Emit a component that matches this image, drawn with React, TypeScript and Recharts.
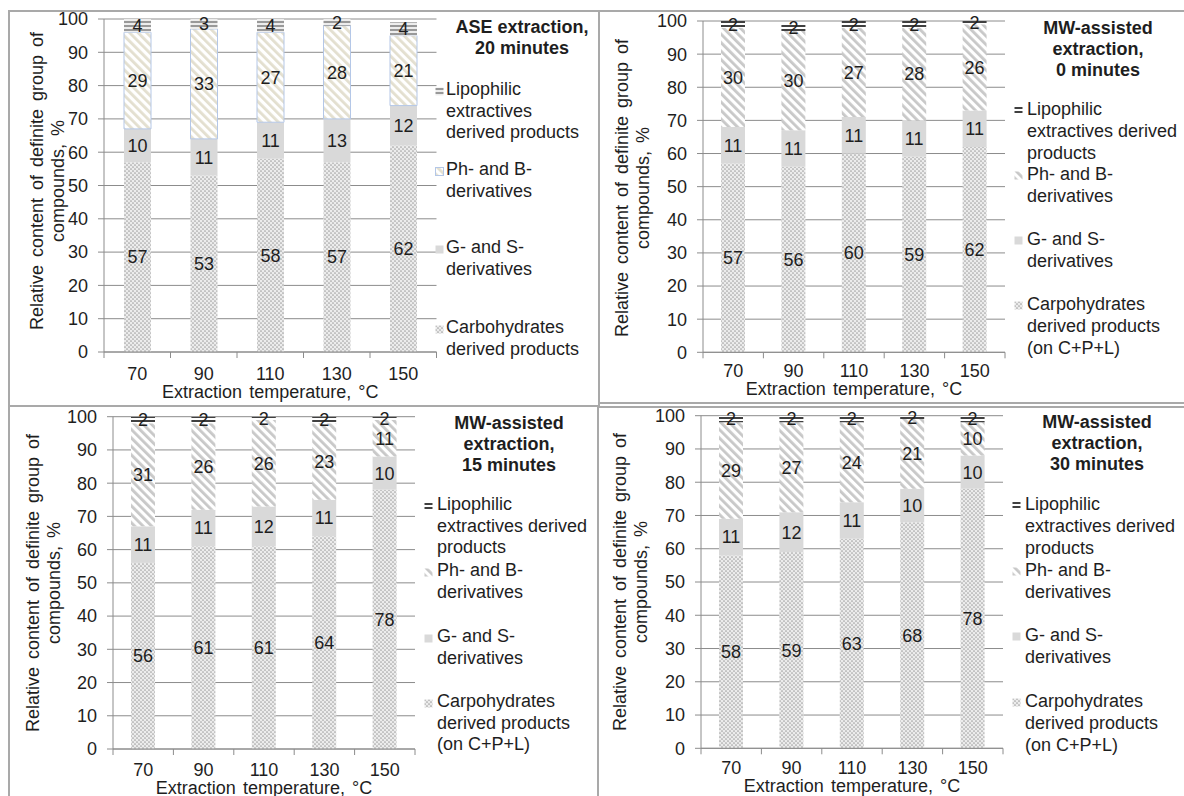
import React from 'react'
import { BarChart, Bar, XAxis, YAxis, CartesianGrid, LabelList } from 'recharts'

const temperatures = ['70', '90', '110', '130', '150']
const percentTicks = [0, 10, 20, 30, 40, 50, 60, 70, 80, 90, 100]

// ASE extraction, 20 minutes
const aseCarbohydrates = [57, 53, 58, 57, 62]
const aseGS = [10, 11, 11, 13, 12]
const asePhB = [29, 33, 27, 28, 21]
const aseLipophilic = [4, 3, 4, 2, 4]

// MW-assisted extraction, 0 minutes
const mw0Carbohydrates = [57, 56, 60, 59, 62]
const mw0GS = [11, 11, 11, 11, 11]
const mw0PhB = [30, 30, 27, 28, 26]
const mw0Lipophilic = [2, 2, 2, 2, 2]

// MW-assisted extraction, 15 minutes
const mw15Carbohydrates = [56, 61, 61, 64, 78]
const mw15GS = [11, 11, 12, 11, 10]
const mw15PhB = [31, 26, 26, 23, 11]
const mw15Lipophilic = [2, 2, 2, 2, 2]

// MW-assisted extraction, 30 minutes
const mw30Carbohydrates = [58, 59, 63, 68, 78]
const mw30GS = [11, 12, 11, 10, 10]
const mw30PhB = [29, 27, 24, 21, 10]
const mw30Lipophilic = [2, 2, 2, 2, 2]

const aseLegend = [
  ['Lipophilic', 'extractives', 'derived products'],
  ['Ph- and B-', 'derivatives'],
  ['G- and S-', 'derivatives'],
  ['Carbohydrates', 'derived products'],
]
const mwLegend = [
  ['Lipophilic', 'extractives derived', 'products'],
  ['Ph- and B-', 'derivatives'],
  ['G- and S-', 'derivatives'],
  ['Carpohydrates', 'derived products', '(on C+P+L)'],
]

const FONT = "'Liberation Sans', Arial, Helvetica, sans-serif"
const TEXT = '#1e1e1e'
const AXIS = '#8c8c8c'
const BORDER = 2
// chart svg starts this far above the panel's inner edge so the "100" tick is not clipped
const LIFT = 12

type Box = { left: number; top: number; width: number; height: number }
type Plot = { left: number; right: number; top: number; bottom: number }

type PanelProps = {
  box: Box
  plot: Plot
  carbs: number[]
  gs: number[]
  phb: number[]
  lipo: number[]
  ase: boolean
  title: string[]
  titleX: number
  titleY: number
  legend: string[][]
  legendY: number[]
  legendLh: number
  legendTextX: number
  legendMarkerX: number
  tickDy: number
  xTitleY: number
  yTitleX: number
  yTitleY: number
}

const fillFor = (key: string, ase: boolean) => {
  if (key === 'carbs') return 'url(#pat-carb)'
  if (key === 'gs') return '#d9d9d9'
  if (key === 'phb') return ase ? 'url(#pat-phb-ase)' : 'url(#pat-phb-mw)'
  return ase ? 'url(#pat-lipo-ase)' : 'url(#pat-lipo-mw)'
}

const renderTempTick = (half: number, dy: number) => (props: any) => {
  const { x, y, payload, index } = props
  return (
    <g>
      <line x1={x - half} x2={x - half} y1={y} y2={y + 6} stroke={AXIS} />
      {index === temperatures.length - 1 && (
        <line x1={x + half} x2={x + half} y1={y} y2={y + 6} stroke={AXIS} />
      )}
      <text x={x} y={y + dy} textAnchor="middle" dominantBaseline="central" fontSize={18} fill={TEXT}>
        {payload.value}
      </text>
    </g>
  )
}

function Panel(p: PanelProps) {
  const ox = p.box.left + BORDER
  const oy = p.box.top + BORDER
  const w = p.box.width - 2 * BORDER
  const h = p.box.height - 2 * BORDER + LIFT
  const yAxisW = 50
  const xAxisH = 40
  const margin = {
    top: p.plot.top - oy + LIFT,
    left: p.plot.left - ox - yAxisW,
    right: w - (p.plot.right - ox),
    bottom: h - (p.plot.bottom - oy + LIFT) - xAxisH,
  }
  const step = (p.plot.right - p.plot.left) / temperatures.length
  const half = step / 2
  const barSize = Math.round(step * 0.4)

  const rows = temperatures.map((t, i) => ({
    temp: t,
    carbs: p.carbs[i],
    gs: p.gs[i],
    phb: p.phb[i],
    lipo: p.lipo[i],
  }))

  const keys = ['lipo', 'phb', 'gs', 'carbs']
  const lh = 21

  return (
    <div
      style={{
        position: 'absolute',
        left: p.box.left,
        top: p.box.top,
        width: p.box.width,
        height: p.box.height,
        boxSizing: 'border-box',
        border: `${BORDER}px solid #a9a9a9`,
        background: '#fff',
        overflow: 'hidden',
        fontFamily: FONT,
        color: TEXT,
      }}
    >
      <div style={{ position: 'absolute', left: 0, top: -LIFT }}>
        <BarChart
          width={w}
          height={h}
          data={rows}
          margin={margin}
          barSize={barSize}
          style={{ fontFamily: FONT }}
        >
          <CartesianGrid vertical={false} stroke={AXIS} />
          <XAxis
            dataKey="temp"
            height={xAxisH}
            interval={0}
            tickSize={0}
            tickMargin={0}
            tickLine={false}
            axisLine={{ stroke: AXIS }}
            tick={renderTempTick(half, p.tickDy)}
          />
          <YAxis
            width={yAxisW}
            domain={[0, 100]}
            ticks={percentTicks}
            allowDataOverflow
            interval={0}
            tickSize={6}
            tickMargin={10}
            axisLine={{ stroke: AXIS }}
            tickLine={{ stroke: AXIS }}
            tick={{ fontSize: 18, fill: TEXT }}
          />
          <Bar dataKey="carbs" stackId="s" fill={fillFor('carbs', p.ase)} isAnimationActive={false}>
            <LabelList dataKey="carbs" position="center" fill={TEXT} fontSize={18} />
          </Bar>
          <Bar dataKey="gs" stackId="s" fill={fillFor('gs', p.ase)} isAnimationActive={false}>
            <LabelList dataKey="gs" position="center" fill={TEXT} fontSize={18} />
          </Bar>
          <Bar
            dataKey="phb"
            stackId="s"
            fill={fillFor('phb', p.ase)}
            stroke={p.ase ? '#b4c7e7' : undefined}
            strokeWidth={p.ase ? 1 : 0}
            isAnimationActive={false}
          >
            <LabelList dataKey="phb" position="center" fill={TEXT} fontSize={18} />
          </Bar>
          <Bar dataKey="lipo" stackId="s" fill={fillFor('lipo', p.ase)} isAnimationActive={false}>
            <LabelList dataKey="lipo" position="center" fill={TEXT} fontSize={18} />
          </Bar>
        </BarChart>
      </div>

      {/* y axis title */}
      <div
        style={{
          position: 'absolute',
          left: p.yTitleX - ox,
          top: p.yTitleY - oy,
          transform: 'translate(-50%, -50%) rotate(-90deg)',
          whiteSpace: 'nowrap',
          textAlign: 'center',
          fontSize: 18,
          lineHeight: '20.5px',
          wordSpacing: 3,
        }}
      >
        Relative content of definite group of
        <br />
        compounds, %
      </div>

      {/* x axis title */}
      <div
        style={{
          position: 'absolute',
          left: (p.plot.left + p.plot.right) / 2 - ox,
          top: p.xTitleY - oy,
          transform: 'translate(-50%, -50%)',
          whiteSpace: 'nowrap',
          fontSize: 18,
          lineHeight: '18px',
          wordSpacing: 2,
        }}
      >
        Extraction temperature, °C
      </div>

      {/* title */}
      <div
        style={{
          position: 'absolute',
          left: p.titleX - ox - 100,
          width: 200,
          top: p.titleY - oy - lh / 2,
          textAlign: 'center',
          fontWeight: 'bold',
          fontSize: 18,
          lineHeight: `${lh}px`,
        }}
      >
        {p.title.map((t) => (
          <div key={t}>{t}</div>
        ))}
      </div>

      {/* legend */}
      {keys.map((k, i) => (
        <React.Fragment key={k}>
          <svg
            width={9}
            height={9}
            style={{ position: 'absolute', left: p.legendMarkerX - ox, top: p.legendY[i] - oy - 3 }}
          >
            <rect
              x={0.5}
              y={0.5}
              width={8}
              height={8}
              fill={fillFor(k, p.ase)}
              stroke={p.ase && k === 'phb' ? '#b4c7e7' : 'none'}
            />
          </svg>
          <div
            style={{
              position: 'absolute',
              left: p.legendTextX - ox,
              top: p.legendY[i] - oy - p.legendLh / 2,
              fontSize: 18,
              lineHeight: `${p.legendLh}px`,
              whiteSpace: 'nowrap',
            }}
          >
            {p.legend[i].map((t) => (
              <div key={t}>{t}</div>
            ))}
          </div>
        </React.Fragment>
      ))}
    </div>
  )
}

function Patterns() {
  return (
    <svg width={0} height={0} style={{ position: 'absolute' }}>
      <defs>
        <pattern id="pat-carb" width={4} height={4} patternUnits="userSpaceOnUse">
          <rect width={4} height={4} fill="#ececec" />
          <circle cx={1} cy={1} r={0.85} fill="#a3a3a3" />
          <circle cx={3} cy={3} r={0.85} fill="#a3a3a3" />
        </pattern>
        <pattern id="pat-phb-mw" width={6} height={6} patternUnits="userSpaceOnUse" patternTransform="rotate(-45)">
          <rect width={6} height={6} fill="#ffffff" />
          <rect width={2.8} height={6} fill="#c8c8c8" />
        </pattern>
        <pattern id="pat-phb-ase" width={6} height={6} patternUnits="userSpaceOnUse" patternTransform="rotate(-45)">
          <rect width={6} height={6} fill="#ffffff" />
          <rect width={2.8} height={6} fill="#e3dfcf" />
        </pattern>
        <pattern id="pat-lipo-mw" width={4} height={4} patternUnits="userSpaceOnUse">
          <rect width={4} height={4} fill="#ffffff" />
          <rect y={1.2} width={4} height={1.6} fill="#111111" />
        </pattern>
        <pattern id="pat-lipo-ase" width={4} height={4} patternUnits="userSpaceOnUse">
          <rect width={4} height={4} fill="#ededed" />
          <rect y={1} width={4} height={2} fill="#999999" />
        </pattern>
      </defs>
    </svg>
  )
}

export default function App() {
  return (
    <div
      style={{
        position: 'absolute',
        left: 0,
        top: 0,
        width: 1184,
        height: 796,
        overflow: 'hidden',
        background: '#fff',
        fontFamily: FONT,
      }}
    >
      <Patterns />
      <Panel
        box={{ left: 8, top: 10, width: 592, height: 400 }}
        plot={{ left: 104, right: 436.5, top: 19, bottom: 352 }}
        carbs={aseCarbohydrates}
        gs={aseGS}
        phb={asePhB}
        lipo={aseLipophilic}
        ase
        title={['ASE extraction,', '20 minutes']}
        titleX={522}
        titleY={27}
        legend={aseLegend}
        legendY={[90, 170, 248, 328]}
        legendLh={21.5}
        legendTextX={446}
        legendMarkerX={435}
        tickDy={22}
        xTitleY={392}
        yTitleX={47}
        yTitleY={181}
      />
      <Panel
        box={{ left: 598, top: 10, width: 600, height: 394 }}
        plot={{ left: 703, right: 1005, top: 21, bottom: 352.3 }}
        carbs={mw0Carbohydrates}
        gs={mw0GS}
        phb={mw0PhB}
        lipo={mw0Lipophilic}
        ase={false}
        title={['MW-assisted', 'extraction,', '0 minutes']}
        titleX={1098}
        titleY={28}
        legend={mwLegend}
        legendY={[109, 174, 239, 304]}
        legendLh={22}
        legendTextX={1027}
        legendMarkerX={1014}
        tickDy={19}
        xTitleY={389}
        yTitleX={632}
        yTitleY={188}
      />
      <Panel
        box={{ left: 8, top: 405, width: 591, height: 400 }}
        plot={{ left: 113, right: 415, top: 416.7, bottom: 749 }}
        carbs={mw15Carbohydrates}
        gs={mw15GS}
        phb={mw15PhB}
        lipo={mw15Lipophilic}
        ase={false}
        title={['MW-assisted', 'extraction,', '15 minutes']}
        titleX={509}
        titleY={423}
        legend={mwLegend}
        legendY={[505, 571, 637, 702]}
        legendLh={21.5}
        legendTextX={437}
        legendMarkerX={424}
        tickDy={21}
        xTitleY={788}
        yTitleX={43}
        yTitleY={583}
      />
      <Panel
        box={{ left: 597, top: 406, width: 600, height: 400 }}
        plot={{ left: 701, right: 1003, top: 415.7, bottom: 748.3 }}
        carbs={mw30Carbohydrates}
        gs={mw30GS}
        phb={mw30PhB}
        lipo={mw30Lipophilic}
        ase={false}
        title={['MW-assisted', 'extraction,', '30 minutes']}
        titleX={1097}
        titleY={422}
        legend={mwLegend}
        legendY={[504, 570, 635, 701]}
        legendLh={22}
        legendTextX={1025}
        legendMarkerX={1012}
        tickDy={20}
        xTitleY={786}
        yTitleX={630}
        yTitleY={582}
      />
    </div>
  )
}
